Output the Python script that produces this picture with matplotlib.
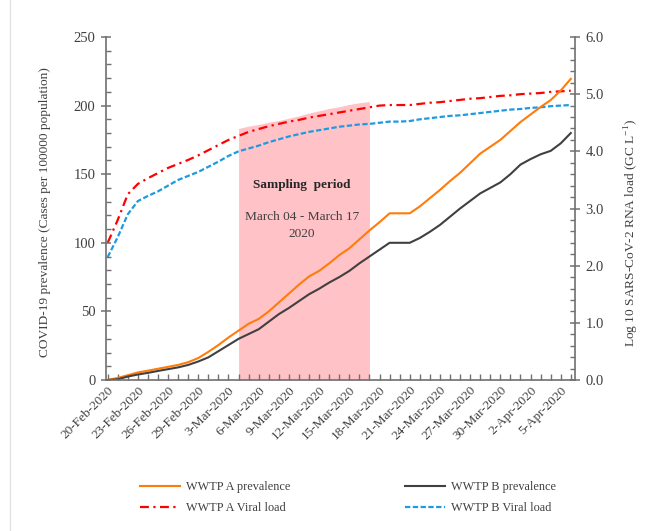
import matplotlib
matplotlib.use("Agg")
import matplotlib.pyplot as plt
from matplotlib.ticker import MultipleLocator, FuncFormatter
from matplotlib.lines import Line2D
import pandas as pd

plt.rcParams['font.family'] = ['Liberation Serif', 'DejaVu Serif']
plt.rcParams['mathtext.fontset'] = 'custom'
plt.rcParams['mathtext.rm'] = 'Liberation Serif'

# Daily dates, 20 Feb 2020 to 6 Apr 2020
dates = pd.date_range("2020-02-20", periods=47, freq="D")

# COVID-19 prevalence (cases per 100000 population)
prev_a = [0, 1.5, 3.5, 5.5, 6.8, 8.2, 9.6, 11, 13, 16, 20.5, 25.5, 31, 36, 41,
          44.5, 50, 56.5, 63, 69.5, 75.5, 79.5, 85, 91, 96, 102.5, 109, 115,
          121.5, 121.5, 121.5, 126.5, 132.5, 138.5, 145, 151, 158, 165, 170,
          175, 181.5, 188, 193.5, 199, 204, 211, 219.5]
prev_b = [0, 0.5, 2.5, 4, 5.2, 6.6, 7.9, 9.2, 11, 13.5, 16.5, 21, 25.5, 30,
          33.5, 37, 42.5, 48, 52.5, 57.5, 62.5, 66.5, 71, 75, 79.5, 85, 90, 95,
          100, 100, 100, 103.5, 108, 113, 119, 125, 130.5, 136, 140, 144, 150,
          157, 161, 164.5, 167, 172.5, 180]

# Log10 SARS-CoV-2 RNA load (GC/L)
viral_a = [2.40, 2.80, 3.25, 3.43, 3.53, 3.62, 3.71, 3.78, 3.85, 3.93, 4.02,
           4.11, 4.20, 4.27, 4.34, 4.39, 4.44, 4.48, 4.52, 4.55, 4.59, 4.62,
           4.65, 4.68, 4.71, 4.74, 4.77, 4.80, 4.81, 4.81, 4.81, 4.83, 4.85,
           4.86, 4.88, 4.90, 4.92, 4.93, 4.95, 4.97, 4.98, 5.00, 5.01, 5.02,
           5.04, 5.05, 5.06]
viral_b = [2.15, 2.50, 2.90, 3.13, 3.22, 3.30, 3.40, 3.50, 3.57, 3.64, 3.73,
           3.82, 3.92, 4.00, 4.05, 4.10, 4.16, 4.21, 4.26, 4.30, 4.34, 4.37,
           4.40, 4.43, 4.45, 4.47, 4.48, 4.50, 4.52, 4.52, 4.53, 4.56, 4.58,
           4.60, 4.62, 4.63, 4.65, 4.67, 4.69, 4.71, 4.73, 4.74, 4.76, 4.77,
           4.79, 4.80, 4.81]

# Sampling window, 4 Mar to 17 Mar 2020, and its band height (right axis)
sampling_dates = pd.date_range("2020-03-04", "2020-03-17", freq="D")
sampling_band = [4.40, 4.44, 4.47, 4.51, 4.54, 4.58, 4.62, 4.67, 4.71, 4.75,
                 4.78, 4.82, 4.85, 4.87]

labels = ["WWTP A prevalence", "WWTP A Viral load",
          "WWTP B prevalence", "WWTP B Viral load"]

text_col = "#404040"
axis_col = "#707070"
c_orange = "#ff7c0a"
c_dark = "#404040"
c_red = "#ff0000"
c_blue = "#1e9be0"

fig = plt.figure(figsize=(6.6, 5.31), dpi=100)
ax = fig.add_axes([106 / 660, 1 - 380 / 531, 469 / 660, 343 / 531])
ax2 = ax.twinx()

# prevalence axis drawn above the viral-load axis
ax.set_zorder(ax2.get_zorder() + 1)
ax.patch.set_visible(False)

ax2.fill_between(sampling_dates, 0, sampling_band, color="#ff9aa2",
                 alpha=0.6, linewidth=0, zorder=1)
ax2.plot(dates, viral_a, color=c_red, lw=1.6, dashes=(4, 2, 1, 2), zorder=2)
ax2.plot(dates, viral_b, color=c_blue, lw=1.6, dashes=(2.4, 1.1), zorder=2)
ax.plot(dates, prev_a, color=c_orange, lw=1.5)
ax.plot(dates, prev_b, color=c_dark, lw=1.5)

x0 = dates[0] - pd.Timedelta(hours=4)
x1 = dates[-1] + pd.Timedelta(hours=10)
ax.set_xlim(x0, x1)
ax.set_ylim(0, 250)
ax2.set_ylim(0, 6)

# spines
for s in ["top", "right"]:
    ax.spines[s].set_visible(False)
for s in ["top", "left", "bottom"]:
    ax2.spines[s].set_visible(False)
ax.spines["left"].set_color(axis_col)
ax.spines["bottom"].set_color(axis_col)
ax2.spines["right"].set_color(axis_col)
for sp in [ax.spines["left"], ax.spines["bottom"], ax2.spines["right"]]:
    sp.set_linewidth(1.2)

# y ticks
ax.yaxis.set_major_locator(MultipleLocator(50))
ax.yaxis.set_minor_locator(MultipleLocator(10))
ax2.yaxis.set_major_locator(MultipleLocator(1))
ax2.yaxis.set_minor_locator(MultipleLocator(0.2))
ax2.yaxis.set_major_formatter(FuncFormatter(lambda v, p: f"{v:.1f}"))
for a in (ax, ax2):
    a.tick_params(axis="y", which="major", direction="inout", length=7,
                  width=1.1, color=axis_col, labelsize=10.5, labelcolor=text_col,
                  pad=4)
    a.tick_params(axis="y", which="minor", direction="in", length=3.5,
                  width=1.0, color=axis_col)

# x ticks: every day, labels every 3 days
tick_dates = list(dates[::3])
ax.set_xticks(tick_dates)
ax.set_xticklabels([f"{d.day}-{d.strftime('%b')}-{d.year}" for d in tick_dates],
                   rotation=45, ha="right", rotation_mode="anchor")
ax.set_xticks(list(dates), minor=True)
ax.tick_params(axis="x", which="both", direction="in", length=4, width=1.0,
               color=axis_col, labelsize=9.5, labelcolor=text_col, pad=3)

ax.set_ylabel("COVID-19 prevalence (Cases per 100000 population)",
              fontsize=9.6, color=text_col)
ax.yaxis.set_label_coords(-0.117, 0.49)
ax2.set_ylabel("Log 10 SARS-CoV-2 RNA load (GC L$^{-1}$)", fontsize=9.6,
               color=text_col, rotation=90)
ax2.yaxis.set_label_coords(1.102, 0.43)

ax.text(0.418, 0.568, "Sampling  period", transform=ax.transAxes,
        ha="center", va="center", fontsize=9.5, fontweight="bold",
        color="#262626")
ax.text(0.418, 0.45, "March 04 - March 17\n2020", transform=ax.transAxes,
        ha="center", va="center", fontsize=9.6, color=text_col,
        linespacing=1.5)

handles = [Line2D([], [], color=c_orange, lw=1.5),
           Line2D([], [], color=c_red, lw=1.6, dashes=(4, 2, 1, 2)),
           Line2D([], [], color=c_dark, lw=1.5),
           Line2D([], [], color=c_blue, lw=1.6, dashes=(2.4, 1.1))]
leg = fig.legend(handles, labels, ncol=2, loc="upper left",
                 bbox_to_anchor=(129 / 660, 1 - 470 / 531), frameon=False,
                 fontsize=8.8, handlelength=3.3, handletextpad=0.45,
                 columnspacing=9.4, labelspacing=0.75)
for t in leg.get_texts():
    t.set_color(text_col)

# thin frame line on the left of the chart area
fig.add_artist(Line2D([10 / 660, 10 / 660], [0, 1], color="#e3e3e3", lw=1.0,
                      transform=fig.transFigure))

fig.savefig("out.png", dpi=100)
